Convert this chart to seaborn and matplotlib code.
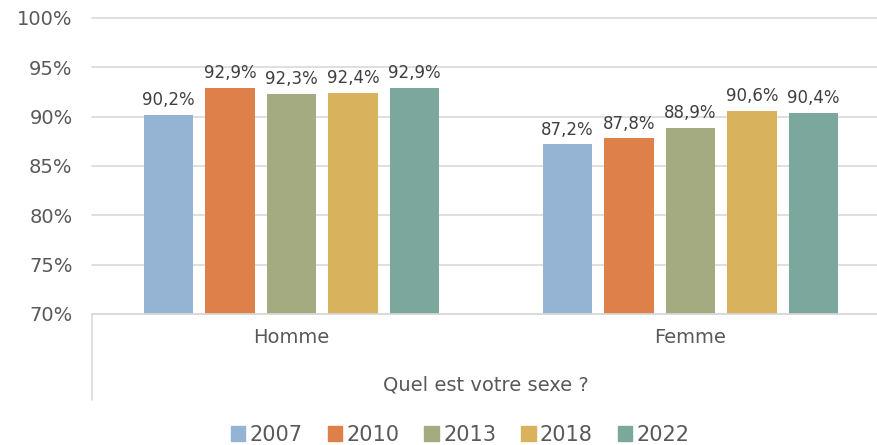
import numpy as np
import pandas as pd
import seaborn as sns
import matplotlib.pyplot as plt
from matplotlib.lines import Line2D

sexe = ['Homme', 'Femme']
annees = ['2007', '2010', '2013', '2018', '2022']
homme = [90.2, 92.9, 92.3, 92.4, 92.9]
femme = [87.2, 87.8, 88.9, 90.6, 90.4]
couleurs = ['#95B3D3', '#DE8049', '#A5AB80', '#D9B25E', '#7BA79C']

rows = []
for i, a in enumerate(annees):
    rows.append({'sexe': 'Homme', 'annee': a, 'val': homme[i]})
    rows.append({'sexe': 'Femme', 'annee': a, 'val': femme[i]})
df = pd.DataFrame(rows)

sns.set_style("white")
plt.rcParams['font.family'] = ['Liberation Sans Narrow', 'DejaVu Sans']
txt = '#595959'

fig = plt.figure(figsize=(8.78, 4.45), dpi=100)
ax = fig.add_axes([0.1048, 0.2944, 0.8952, 0.6652])

sns.barplot(data=df, x='sexe', y='val', hue='annee', order=sexe,
            hue_order=annees, palette=couleurs, width=0.77, gap=0.2,
            saturation=1, legend=False, linewidth=0, ax=ax)

for c in ax.containers:
    ax.bar_label(c, labels=[('%.1f%%' % v).replace('.', ',') for v in c.datavalues],
                 padding=4, fontsize=12, color='#404040')

ax.set_ylim(70, 100)
ax.set_xlim(-0.5, 1.47)
ax.set_yticks(range(70, 101, 5))
ax.set_yticklabels(['%d%%' % t for t in range(70, 101, 5)], fontsize=14, color=txt)
ax.yaxis.grid(True, color='#D9D9D9', linewidth=1.2)
for gl in ax.get_ygridlines():
    gl.set_clip_on(False)
ax.set_axisbelow(True)
for s in ['top', 'right', 'left']:
    ax.spines[s].set_visible(False)
ax.spines['bottom'].set_color('#D9D9D9')
ax.spines['bottom'].set_linewidth(1.2)
ax.tick_params(axis='y', length=0, pad=14)
ax.tick_params(axis='x', length=0, pad=10, labelsize=14, labelcolor=txt)
ax.set_xlabel('')
ax.set_ylabel('')

# axe de catégories à deux niveaux
fig.text(0.553, 1 - 385 / 445, 'Quel est votre sexe ?', ha='center', va='center',
         fontsize=14, color=txt)
fig.add_artist(Line2D([92 / 878, 92 / 878], [1 - 314 / 445, 1 - 400 / 445],
                      color='#D9D9D9', linewidth=1.2))

handles = [plt.Rectangle((0, 0), 1, 1, color=c) for c in couleurs]
fig.legend(handles, annees, loc='center', bbox_to_anchor=(0.524, 1 - 435 / 445),
           ncol=5, frameon=False, fontsize=15, handlelength=0.7, handleheight=0.7,
           handletextpad=0.2, columnspacing=1.2, labelcolor=txt)

fig.savefig('out.png', dpi=100)
